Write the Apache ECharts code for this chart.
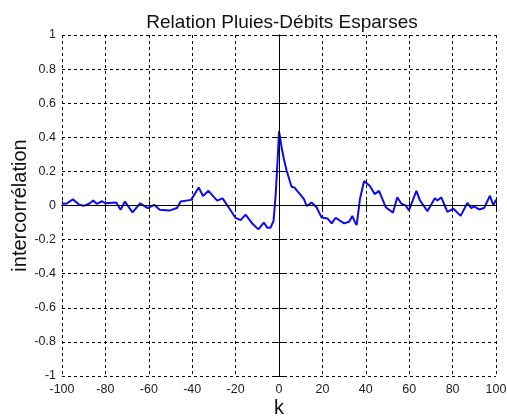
<!DOCTYPE html>
<html>
  <head>
    <title></title>
    <meta charset="UTF-8" />
    <script src="https://cdn.jsdelivr.net/npm/echarts@6/dist/echarts.min.js"></script>
  </head>
  <body style="margin:0">
    <div id="main"></div>
    <script>
      const width = 507;
      const height = 418;
      const main = document.getElementById('main');
      main.style.width = `${width}px`;
      main.style.height = `${height}px`;

      // lag k and cross-correlation
      const lags = [
        -100, -98, -95, -92, -90, -87.5, -85.6, -84, -81.5, -80, -75, -73, -71, -67.5, -64,
        -60.5, -57.5, -55, -50.5, -47, -45.3, -40.5, -37, -35, -32.5, -28.5, -26, -23, -20,
        -17.7, -15.4, -12.3, -9.5, -7, -5.4, -3.9, -2.5, -1.5, -0.5, 0, 0.5, 1.2, 2.3, 3.5,
        5.8, 7.2, 8.1, 10.4, 11.5, 12.7, 15, 17.3, 19.6, 22.3, 24.3, 26.1, 30, 32.3, 33.8,
        34.9, 35.8, 37.3, 39.2, 41.9, 44.1, 46.1, 49.2, 52.5, 54.5, 56.4, 58.4, 59.9, 63.3,
        65, 68.4, 71.8, 73, 74.8, 77.6, 80.4, 83.7, 86.8, 88.6, 89.9, 92.2, 94.5, 97.2, 98.8,
        100
      ];
      const intercorr = [
        0.012, 0.01, 0.036, 0.004, -0.002, 0.01, 0.029, 0.01, 0.025, 0.013, 0.017, -0.025,
        0.023, -0.04, 0.013, -0.015, 0.004, -0.025, -0.03, -0.015, 0.023, 0.033, 0.106,
        0.056, 0.086, 0.029, 0.042, -0.015, -0.073, -0.086, -0.054, -0.106, -0.14, -0.1,
        -0.13, -0.13, -0.09, 0.07, 0.3, 0.435, 0.4, 0.34, 0.27, 0.205, 0.11, 0.105, 0.09,
        0.055, 0.038, -0.003, 0.017, -0.01, -0.07, -0.076, -0.105, -0.072, -0.105, -0.095,
        -0.061, -0.095, -0.115, 0.038, 0.143, 0.114, 0.067, 0.086, -0.01, -0.042, 0.048,
        0.01, 0, -0.029, 0.086, 0.029, -0.034, 0.042, 0.029, 0.048, -0.038, -0.019, -0.061,
        0.015, -0.015, -0.005, -0.023, -0.015, 0.057, 0, 0.034
      ];
      const xTicks = [-100, 100, 20];
      const yTicks = [-1, 1, 0.2];

      const font = 'Liberation Sans, Arial, sans-serif';
      const frameAxis = {
        axisLine: { show: true, lineStyle: { color: '#000', width: 1 } },
        axisTick: { show: true, inside: true, length: 5, lineStyle: { color: '#000' } },
      };

      const myChart = echarts.init(main);
      const option = {
        backgroundColor: '#fff',
        animation: false,
        title: {
          text: 'Relation Pluies-Débits Esparses',
          left: 277,
          textAlign: 'center',
          top: 8,
          textStyle: { fontFamily: font, fontSize: 19, fontWeight: 'normal', color: '#111' },
        },
        grid: { left: 62, right: 11, top: 35, bottom: 42, outerBoundsMode: 'none' },
        xAxis: [
          {
            type: 'value',
            min: xTicks[0],
            max: xTicks[1],
            interval: xTicks[2],
            name: 'k',
            nameLocation: 'middle',
            nameGap: 22,
            nameMoveOverlap: false,
            nameTextStyle: { fontFamily: font, fontSize: 20, color: '#111' },
            ...frameAxis,
            axisLabel: { fontFamily: font, fontSize: 12.5, color: '#222', margin: 7 },
            splitLine: { show: true, lineStyle: { color: '#000', type: [3, 3], width: 1 } },
          },
          {
            type: 'value',
            position: 'top',
            min: xTicks[0],
            max: xTicks[1],
            interval: xTicks[2],
            ...frameAxis,
            axisLabel: { show: false },
            splitLine: { show: false },
          },
        ],
        yAxis: [
          {
            type: 'value',
            min: yTicks[0],
            max: yTicks[1],
            interval: yTicks[2],
            name: 'intercorrélation',
            nameLocation: 'middle',
            nameGap: 32,
            nameMoveOverlap: false,
            nameTextStyle: { fontFamily: font, fontSize: 20, color: '#111' },
            ...frameAxis,
            axisLabel: {
              fontFamily: font,
              fontSize: 12.5,
              color: '#222',
              margin: 6,
              formatter: (v) => String(Math.round(v * 10) / 10),
            },
            splitLine: { show: true, lineStyle: { color: '#000', type: [3, 3], width: 1 } },
          },
          {
            type: 'value',
            position: 'right',
            min: yTicks[0],
            max: yTicks[1],
            interval: yTicks[2],
            ...frameAxis,
            axisLabel: { show: false },
            splitLine: { show: false },
          },
        ],
        series: [
          {
            type: 'line',
            data: lags.map((k, i) => [k, intercorr[i]]),
            showSymbol: false,
            smooth: false,
            lineStyle: { color: '#0c0cf0', width: 2 },
            markLine: {
              silent: true,
              symbol: 'none',
              label: { show: false },
              lineStyle: { color: '#000', type: 'solid', width: 1 },
              data: [{ xAxis: 0 }, { yAxis: 0 }],
            },
          },
        ],
      };
      myChart.setOption(option);
    </script>
  </body>
</html>
